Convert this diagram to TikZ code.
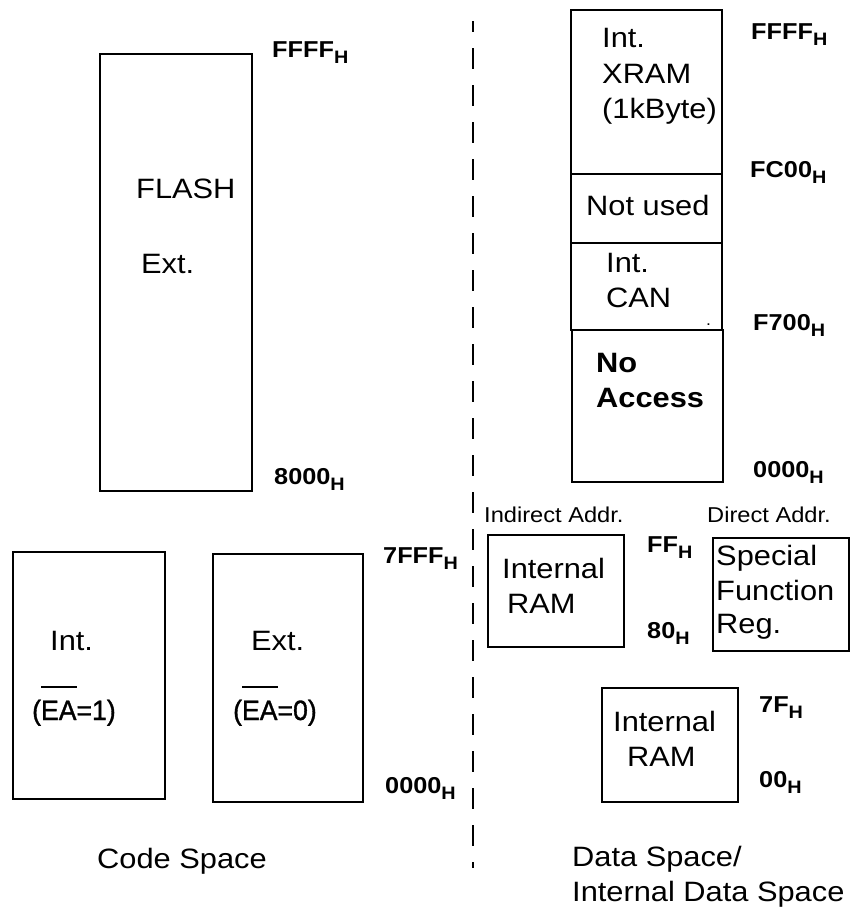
\documentclass[tikz,border=0pt]{standalone}
\usepackage{fontspec}
\setmainfont{Liberation Sans}[FakeStretch=1.1]
\newfontfamily\eafont{Liberation Sans}[FakeStretch=0.95,FakeBold=1.2]
\newcommand\adr[1]{#1\raisebox{-6pt}{\fontsize{18}{18}\selectfont H}}
\newcommand\ovEA{\setbox0\hbox{EA}\rlap{\rule[32pt]{\wd0}{2pt}}\box0}
\begin{document}
\begin{tikzpicture}[x=1pt,y=-1pt,
  box/.style={draw, line width=2pt, inner sep=0pt, outer sep=0pt},
  txt/.style={anchor=base west, inner sep=0pt, font=\fontsize{28}{34}\selectfont},
  bt/.style={txt, font=\bfseries\fontsize{28}{34}\selectfont},
  sm/.style={txt, font=\fontsize{21.5}{26}\selectfont},
  ad/.style={txt, font=\bfseries\fontsize{23}{28}\selectfont},
  ea/.style={txt, font=\eafont\fontsize{28}{34}\selectfont},
  sep/.style={line width=2pt, dash pattern=on 21pt off 16pt, dash phase=10pt}]
\useasboundingbox (0,0) rectangle (861,910);

% ---------- code space ----------
\node[box, minimum width=152pt, minimum height=437pt] (flash) at (176,272.5) {};
\node[txt] (flasht) at (136,198) {FLASH};
\node[txt] (flashe) at (141,273) {Ext.};
\node[ad] (cffff) at (272,57) {\adr{FFFF}};
\node[ad] (c8000) at (274,484) {\adr{8000}};

\node[box, minimum width=152pt, minimum height=247pt] (intb) at (89,675.5) {};
\node[txt] (intt) at (50,650) {Int.};
\node[ea] (ea1) at (32,720) {(\ovEA=1)};
\node[box, minimum width=150pt, minimum height=248pt] (extb) at (288,678) {};
\node[txt] (extt) at (251,650) {Ext.};
\node[ea] (ea0) at (233,720) {(\ovEA=0)};
\node[ad] (c7fff) at (383,563) {\adr{7FFF}};
\node[ad] (c0000) at (385,793) {\adr{0000}};
\node[txt] (codesp) at (97,868) {Code Space};

% ---------- separator ----------
\coordinate (dtop) at (473,21);
\coordinate (dbot) at (473,868);
\draw[sep] (dtop) -- (dbot);

% ---------- data space ----------
\node[box, minimum width=151pt, minimum height=164pt] (xram) at (646.5,92) {};
\node[box, minimum width=151pt, minimum height=69pt] (notused) at (646.5,208.5) {};
\node[box, minimum width=151pt, minimum height=87pt] (can) at (646.5,286.5) {};
\node[box, minimum width=151pt, minimum height=152pt] (noacc) at (647.5,406) {};
\node[txt] (xr1) at (602,47) {Int.};
\node[txt] (xr2) at (602,83) {XRAM};
\node[txt] (xr3) at (602,118) {(1kByte)};
\node[txt] (nu) at (586,215) {Not used};
\node[txt] (can1) at (606,272) {Int.};
\node[txt] (can2) at (606,307) {CAN};
\node[txt, font=\fontsize{16}{16}\selectfont] (dot) at (706,325) {.};
\node[bt] (na1) at (596,372) {No};
\node[bt] (na2) at (596,407) {Access};
\node[ad] (dffff) at (751,39) {\adr{FFFF}};
\node[ad] (dfc00) at (750,177) {\adr{FC00}};
\node[ad] (df700) at (753,330) {\adr{F700}};
\node[ad] (d0000) at (753,477) {\adr{0000}};

\node[sm] (indir) at (484,522) {Indirect Addr.};
\node[sm] (dir) at (707,522) {Direct Addr.};
\node[box, minimum width=136pt, minimum height=112pt] (iram1) at (556,591) {};
\node[txt] (ir1a) at (502,578) {Internal};
\node[txt] (ir1b) at (507,613) {RAM};
\node[ad] (dff) at (647,552) {\adr{FF}};
\node[ad] (d80) at (647,638) {\adr{80}};
\node[box, minimum width=136pt, minimum height=113pt] (sfr) at (781,594.5) {};
\node[txt] (sfr1) at (716,565) {Special};
\node[txt] (sfr2) at (716,600) {Function};
\node[txt] (sfr3) at (716,633) {Reg.};
\node[box, minimum width=136pt, minimum height=114pt] (iram2) at (670,745) {};
\node[txt] (ir2a) at (613,731) {Internal};
\node[txt] (ir2b) at (627,766) {RAM};
\node[ad] (d7f) at (759,712) {\adr{7F}};
\node[ad] (d00) at (759,787) {\adr{00}};
\node[txt] (ds1) at (572,866) {Data Space/};
\node[txt] (ds2) at (572,901) {Internal Data Space};
\end{tikzpicture}
\end{document}
